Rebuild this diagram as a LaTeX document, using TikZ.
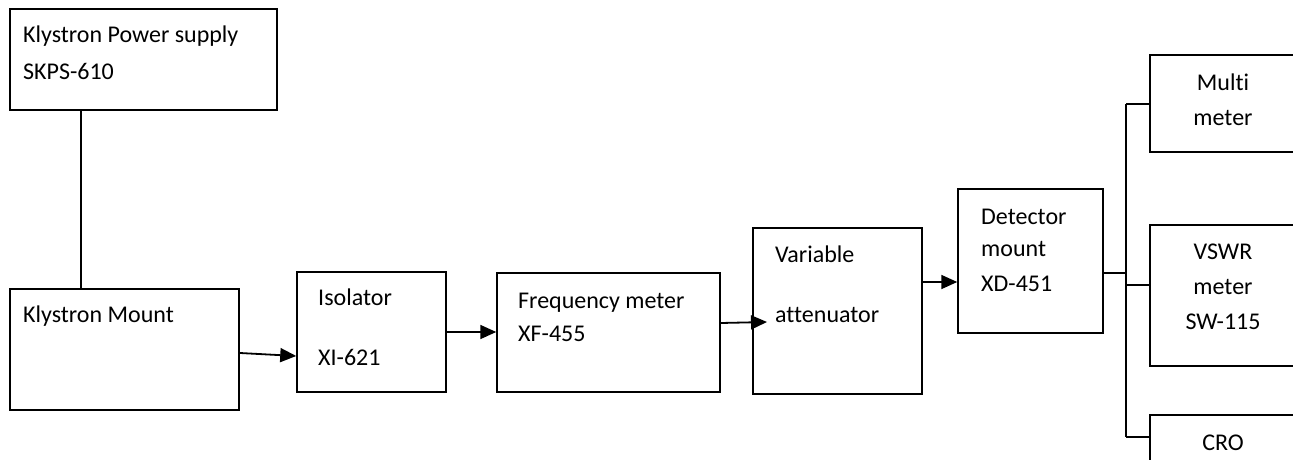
\documentclass[tikz,border=0pt]{standalone}
\usepackage{fontspec}
\setmainfont{Carlito}[Ligatures={NoCommon,NoContextual},RawFeature={-liga;-clig;-calt;-dlig}]
\usetikzlibrary{arrows.meta}
\begin{document}
\begin{tikzpicture}[x=1pt,y=-1pt,
  box/.style={draw,line width=1.5pt,inner sep=0pt},
  thickbox/.style={draw,line width=2pt,inner sep=0pt},
  lbl/.style={anchor=base west,inner sep=0pt,font=\fontsize{24}{29}\selectfont},
  clbl/.style={anchor=base,inner sep=0pt,font=\fontsize{24}{29}\selectfont},
  wire/.style={line width=1.5pt},
  arr/.style={line width=1.8pt,-{Triangle[length=16pt,width=14pt]}}]
\useasboundingbox (0,0) rectangle (1293,460);
\clip (0,0) rectangle (1293,460);
% boxes
\node[thickbox,minimum width=267pt,minimum height=101pt] (ps) at (143.5,59.5) {};
\node[thickbox,minimum width=229pt,minimum height=121pt] (km) at (124.5,349.5) {};
\node[box,minimum width=149pt,minimum height=120pt] (iso) at (371.5,332) {};
\node[box,minimum width=223pt,minimum height=119pt] (fm) at (608.5,332.5) {};
\node[box,minimum width=169pt,minimum height=166pt] (va) at (837.5,311) {};
\node[box,minimum width=145pt,minimum height=144pt] (det) at (1030.5,261) {};
\node[box,minimum width=160pt,minimum height=97pt] (mm) at (1230,103.5) {};
\node[box,minimum width=160pt,minimum height=141pt] (vs) at (1230,295.5) {};
\node[box,minimum width=160pt,minimum height=65pt] (cro) at (1230,447.5) {};
% texts
\node[lbl] (t1) at (23,43) {Klystron Power supply};
\node[lbl] (t2) at (23,80) {SKPS-610};
\node[lbl] (t3) at (23,322) {Klystron Mount};
\node[lbl] (t4) at (318,305) {Isolator};
\node[lbl] (t5) at (318,365) {XI-621};
\node[lbl] (t6) at (518,308) {Frequency meter};
\node[lbl] (t7) at (518,341) {XF-455};
\node[lbl] (t8) at (775,262) {Variable};
\node[lbl] (t9) at (775,322) {attenuator};
\node[lbl] (t10) at (981,224) {Detector};
\node[lbl] (t11) at (981,256) {mount};
\node[lbl] (t12) at (981,291) {XD-451};
\node[clbl] (t13) at (1223,91) {Multi};
\node[clbl] (t14) at (1223,125) {meter};
\node[clbl] (t15) at (1223,259) {VSWR};
\node[clbl] (t16) at (1223,294) {meter};
\node[clbl] (t17) at (1223,329) {SW-115};
\node[clbl] (t18) at (1223,450) {CRO};
% helper coordinates
\coordinate (x81) at (81,0);
\coordinate (ya) at (0,353);
\coordinate (yb) at (0,356);
\coordinate (yc) at (0,332);
\coordinate (yd) at (0,323);
\coordinate (vaend) at (767,322);
\coordinate (yf) at (0,282);
\coordinate (yg) at (0,273);
\coordinate (bus) at (1126,273);
\coordinate (bt) at (1126,104);
\coordinate (bm) at (1126,285);
\coordinate (bb) at (1126,437);
% connectors
\draw[wire] (ps.south -| x81) -- (km.north -| x81);
\draw[arr] (km.east |- ya) -- (iso.west |- yb);
\draw[arr] (iso.east |- yc) -- (fm.west |- yc);
\draw[arr] (fm.east |- yd) -- (vaend);
\draw[arr] (va.east |- yf) -- (det.west |- yf);
\draw[wire] (det.east |- yg) -- (bus);
\draw[wire] (bt) -- (bb);
\draw[wire] (bt) -- (mm.west |- bt);
\draw[wire] (bm) -- (vs.west |- bm);
\draw[wire] (bb) -- (cro.west |- bb);
\end{tikzpicture}
\end{document}
